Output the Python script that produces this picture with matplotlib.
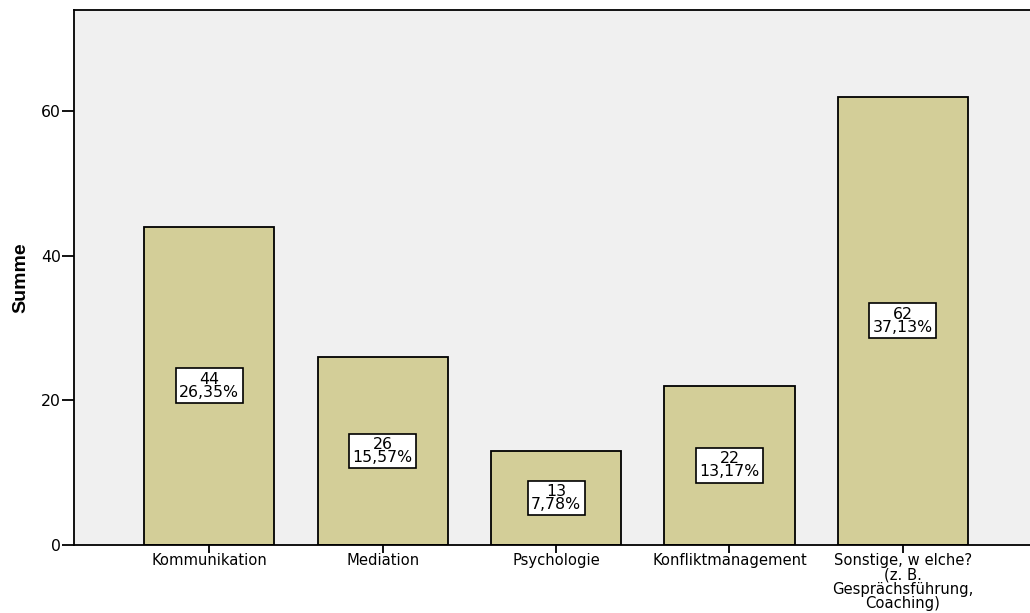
import matplotlib.pyplot as plt

plt.rcParams['font.family'] = ['DejaVu Sans']

# Kategorien und Werte
categories = ['Kommunikation', 'Mediation', 'Psychologie', 'Konfliktmanagement',
              'Sonstige, w elche?\n(z. B.\nGesprächsführung,\nCoaching)']
counts = [44, 26, 13, 22, 62]
percents = ['26,35%', '15,57%', '7,78%', '13,17%', '37,13%']

fig = plt.figure(figsize=(10.30, 6.13), dpi=100)
ax = fig.add_axes([0.0718, 0.111, 0.9282, 0.873])
ax.set_facecolor('#f0f0f0')

x = list(range(len(categories)))
ax.bar(x, counts, width=0.75, color='#d3ce98', edgecolor='black', linewidth=1.3, zorder=2)

# Beschriftungen in der Mitte der Balken
for xi, c, p in zip(x, counts, percents):
    ax.text(xi, c / 2, f'{c}\n{p}', ha='center', va='center', fontsize=11.3,
            linespacing=0.82, zorder=3,
            bbox=dict(boxstyle='square,pad=0.22', facecolor='white', edgecolor='black', linewidth=1.2))

ax.set_xlim(-0.78, 4.733)
ax.set_ylim(0, 74)
ax.set_yticks([0, 20, 40, 60])
ax.set_xticks(x)
ax.set_xticklabels(categories, fontsize=10.6, linespacing=0.93)
ax.tick_params(axis='y', length=9, width=1.3, labelsize=11.3, pad=0.5)
ax.tick_params(axis='x', length=6, width=1.3, pad=0)
ax.set_ylabel('Summe', fontsize=14, fontweight='bold', labelpad=8,
              family=['Liberation Sans'])

for s in ax.spines.values():
    s.set_linewidth(1.3)
ax.spines['right'].set_visible(False)

fig.savefig('out.png', dpi=100)
